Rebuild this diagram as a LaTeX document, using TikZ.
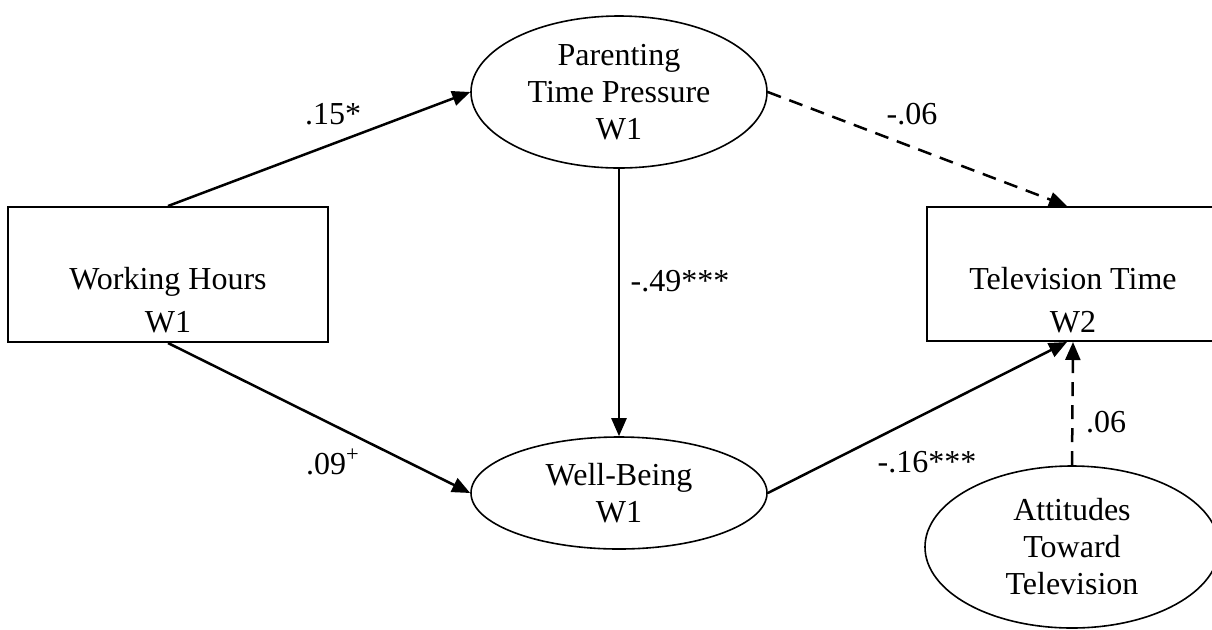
\documentclass[tikz,border=0pt]{standalone}
\usepackage{fontspec}
\setmainfont{Liberation Serif}
\usetikzlibrary{shapes.geometric,arrows.meta}
\begin{document}
\begin{tikzpicture}[x=0.5pt,y=-0.5pt,
  txt/.style={font=\fontsize{16}{18.5}\selectfont, inner sep=0pt},
  boxtxt/.style={font=\fontsize{16}{21.5}\selectfont, align=center, inner sep=0pt},
  boxnode/.style={draw, line width=1pt, rectangle, inner sep=0pt},
  ellnode/.style={draw, line width=0.8pt, ellipse, inner sep=0pt, align=center,
    font=\fontsize{16}{18.5}\selectfont},
  arr/.style={line width=1.25pt, -{Triangle[length=9pt,width=7.5pt]}},
  dsh/.style={dash pattern=on 7pt off 4.5pt}
]
\useasboundingbox (0,0) rectangle (1212,629);

% boxes
\node[boxnode, minimum width=160pt, minimum height=67.5pt] (wh) at (168,274.5) {};
\node[boxtxt] (whtxt) at (168,300) {Working Hours\\W1};
\node[boxnode, minimum width=146pt, minimum height=67pt] (tt) at (1073,274) {};
\node[boxtxt] (tttxt) at (1073,300) {Television Time\\W2};

% ellipses
\node[ellnode, minimum width=148pt, minimum height=76pt] (ptp) at (619,92) {Parenting\\Time Pressure\\W1};
\node[ellnode, minimum width=148pt, minimum height=56pt] (wb) at (619,493) {Well-Being\\W1};
\node[ellnode, minimum width=147pt, minimum height=81pt] (att) at (1072,547) {Attitudes\\Toward\\Television};

% connectors
\draw[arr] (wh.north) -- (ptp.west);
\draw[arr] (wh.south) -- (wb.west);
\draw[arr] (ptp.south) -- (wb.north);
\draw[arr, dsh] (ptp.east) -- ([xshift=-3pt]tt.north);
\draw[arr] (wb.east) -- ([xshift=-3pt]tt.south);
\draw[arr, dsh] (att.north) -- (tt.south);

% labels
\node[txt] (l1) at (333,114) {.15*};
\node[txt] (l2) at (912,114) {-.06};
\node[txt] (l3) at (680,281) {-.49***};
\node[txt] (l4) at (333,462) {.09\textsuperscript{+}};
\node[txt] (l5) at (927,462) {-.16***};
\node[txt] (l6) at (1106,422) {.06};
\end{tikzpicture}
\end{document}
